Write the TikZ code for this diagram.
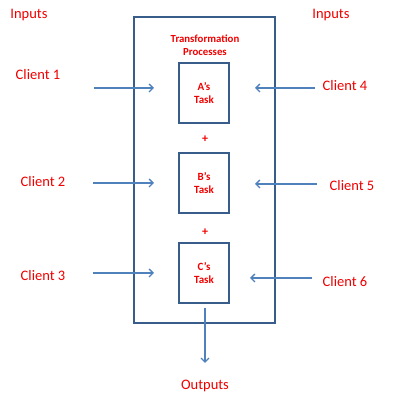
\documentclass[tikz,border=0pt]{standalone}
\usepackage{fontspec}
\setmainfont{Carlito}
\usetikzlibrary{arrows.meta}
\definecolor{lbl}{HTML}{F00000}
\definecolor{arr}{HTML}{4F81BD}
\definecolor{frm}{HTML}{385D8A}
\begin{document}
\begin{tikzpicture}[x=1pt,y=-1pt,
  lab/.style={text=lbl,font=\fontsize{14.5}{16}\selectfont,inner sep=0pt},
  taskbox/.style={draw=frm,line width=1.3pt,minimum width=50pt,minimum height=60pt,inner sep=0pt,
    text=lbl,font=\bfseries\fontsize{11}{13.5}\selectfont,align=center},
  conn/.style={draw=arr,line width=1.3pt,-{Straight Barb[length=4pt,width=8pt]}}]
\useasboundingbox (0,0) rectangle (400,398);
\node[draw=frm,line width=1.3pt,minimum width=141pt,minimum height=306pt,inner sep=0pt] (outer) at (204.5,170) {};
\node[lab] (inL) at (29,15) {Inputs};
\node[lab] (inR) at (331,15) {Inputs};
\node[text=lbl,font=\bfseries\fontsize{10.8}{13}\selectfont,align=center,inner sep=0pt] (tp) at (205,45) {Transformation\\Processes};
\node[taskbox] (A) at (204,93) {A’s\\Task};
\node[taskbox] (B) at (204,183) {B’s\\Task};
\node[taskbox] (C) at (204,273) {C’s\\Task};
\node[text=lbl,font=\bfseries\fontsize{12}{13}\selectfont,inner sep=0pt] (p1) at (205,139) {+};
\node[text=lbl,font=\bfseries\fontsize{12}{13}\selectfont,inner sep=0pt] (p2) at (205,232) {+};
\node[lab] (c1) at (38,75) {Client 1};
\node[lab] (c2) at (43,182) {Client 2};
\node[lab] (c3) at (43,276) {Client 3};
\node[lab] (c4) at (345,86) {Client 4};
\node[lab] (c5) at (352,186) {Client 5};
\node[lab] (c6) at (345,282) {Client 6};
\node[lab] (out) at (205,386) {Outputs};
\coordinate (s1) at (94,88);  \coordinate (e1) at (154,88);
\coordinate (s2) at (93,183); \coordinate (e2) at (154,183);
\coordinate (s3) at (93,273); \coordinate (e3) at (154,273);
\coordinate (s4) at (315,88); \coordinate (e4) at (255,88);
\coordinate (s5) at (317,184); \coordinate (e5) at (255,184);
\coordinate (s6) at (312,278); \coordinate (e6) at (250,278);
\coordinate (so) at (205,308); \coordinate (eo) at (205,363);
\path[conn] (s1) -- (e1);
\path[conn] (s2) -- (e2);
\path[conn] (s3) -- (e3);
\path[conn] (s4) -- (e4);
\path[conn] (s5) -- (e5);
\path[conn] (s6) -- (e6);
\path[conn] (so) -- (eo);
\end{tikzpicture}
\end{document}
